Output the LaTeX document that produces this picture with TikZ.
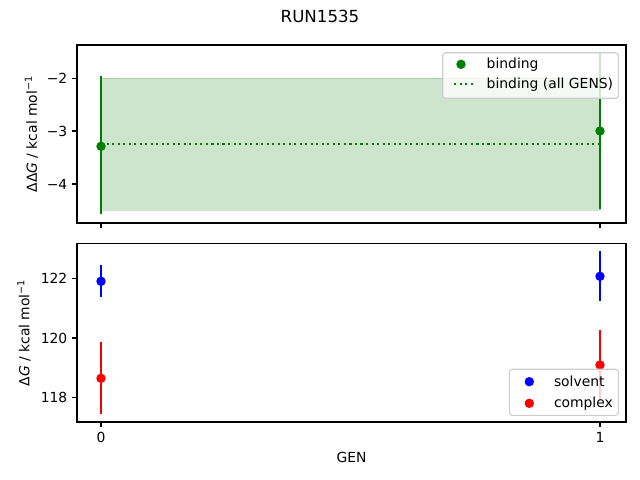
\documentclass[tikz,border=0pt]{standalone}
\usepackage{fontspec}
\setmainfont{DejaVu Sans}
\begin{document}
\begin{tikzpicture}[x={(0.72pt,0)},y={(0,-0.72pt)},
  every node/.style={inner sep=0pt,outer sep=0pt,font=\fontsize{10}{12}\selectfont},
  frame/.style={draw=black,line width=0.8pt},
  tick/.style={draw=black,line width=0.8pt},
  ebar/.style={line width=1.5pt},
  dot/.style={circle,minimum size=6.8pt,inner sep=0pt},
  ticklab/.style={anchor=east},
  legbox/.style={draw={rgb,255:red,204;green,204;blue,204},fill=white,fill opacity=0.8,rounded corners=2pt,line width=0.8pt},
  dotline/.style={line width=1.5pt,dash pattern=on 1.5pt off 2.475pt}]
\definecolor{mgreen}{RGB}{0,128,0}
\definecolor{mblue}{RGB}{0,0,255}
\definecolor{mred}{RGB}{255,0,0}
\useasboundingbox[fill=white] (0,0) rectangle (640,480);

% title
\node (title) at (320,16) {\fontsize{12}{14}\selectfont RUN1535};

% ---------------- top panel ----------------
\fill[mgreen,fill opacity=0.2,draw=mgreen,draw opacity=0.2,line width=1pt] (101,78.3) rectangle (600,210.4);
\coordinate (dl0) at (101,144.3);
\coordinate (dl1) at (600,144.3);
\draw[mgreen,dotline] (dl0) -- (dl1);
% error bars
\coordinate (e0t) at (101,76); \coordinate (e0b) at (101,214.3);
\coordinate (e1t) at (600,51.7); \coordinate (e1b) at (600,209);
\draw[mgreen,ebar] (e0t) -- (e0b);
\draw[mgreen,ebar] (e1t) -- (e1b);
\node[dot,fill=mgreen] (b0) at (101,146.3) {};
\node[dot,fill=mgreen] (b1) at (600,131) {};
% frame
\draw[frame] (77,45) rectangle (626,223);
% ticks
\foreach \yy/\lab in {78.3/{−2},131/{−3},184/{−4}}{
  \draw[tick] (77,\yy) -- (72.1,\yy);
  \node[ticklab] (tl\yy) at (67.3,\yy) {\lab};
}
\draw[tick] (101,223) -- (101,227.9);
\draw[tick] (600,223) -- (600,227.9);
\node[rotate=90] (ylab1) at (31.5,134) {ΔΔ\textit{G} / kcal mol\textsuperscript{−1}};
% legend
\draw[legbox] (442.7,52.7) rectangle (618.3,98.3);
\node[dot,fill=mgreen] (lg1) at (461,64.3) {};
\node[anchor=west] (lt1) at (486.7,64.3) {binding};
\coordinate (ld0) at (454.3,84.3); \coordinate (ld1) at (474.3,84.3);
\draw[mgreen,dotline] (ld0) -- (ld1);
\node[anchor=west] (lt2) at (486.7,84.3) {binding (all GENS)};

% ---------------- bottom panel ----------------
\coordinate (s0t) at (101,265); \coordinate (s0b) at (101,296.7);
\coordinate (c0t) at (101,342.3); \coordinate (c0b) at (101,413.7);
\coordinate (s1t) at (600,251); \coordinate (s1b) at (600,300.7);
\coordinate (c1t) at (600,330); \coordinate (c1b) at (600,400);
\draw[mblue,ebar] (s0t) -- (s0b);
\draw[mred,ebar] (c0t) -- (c0b);
\draw[mblue,ebar] (s1t) -- (s1b);
\draw[mred,ebar] (c1t) -- (c1b);
\node[dot,fill=mblue] (sv0) at (101,281.3) {};
\node[dot,fill=mred] (cx0) at (101,378.3) {};
\node[dot,fill=mblue] (sv1) at (600,276.3) {};
\node[dot,fill=mred] (cx1) at (600,365) {};
\draw[frame] (77,243.3) rectangle (626,422);
\foreach \yy/\lab in {278.3/122,338/120,397.7/118}{
  \draw[tick] (77,\yy) -- (72.1,\yy);
  \node[ticklab] (bl\yy) at (67.3,\yy) {\lab};
}
\draw[tick] (101,422) -- (101,426.9);
\draw[tick] (600,422) -- (600,426.9);
\node (x0) at (101,437.3) {0};
\node (x1) at (600,437.3) {1};
\node (xlab) at (351.5,457.7) {GEN};
\node[rotate=90] (ylab2) at (24,332.7) {Δ\textit{G} / kcal mol\textsuperscript{−1}};
% legend
\draw[legbox] (509.3,369.3) rectangle (618.3,415.3);
\node[dot,fill=mblue] (lg3) at (529.3,381.7) {};
\node[anchor=west] (lt3) at (554,381.7) {solvent};
\node[dot,fill=mred] (lg4) at (529.3,403.3) {};
\node[anchor=west] (lt4) at (554,403.3) {complex};
\end{tikzpicture}
\end{document}
